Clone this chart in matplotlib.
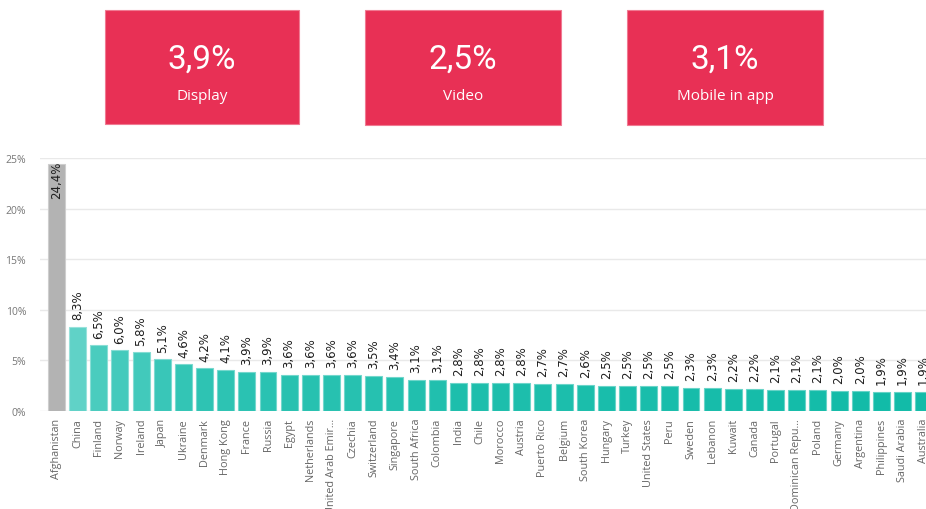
import matplotlib
matplotlib.use("Agg")
import matplotlib.pyplot as plt
import numpy as np
from matplotlib.colors import to_rgb
from matplotlib.patches import Rectangle

countries = ["Afghanistan", "China", "Finland", "Norway", "Ireland", "Japan", "Ukraine",
             "Denmark", "Hong Kong", "France", "Russia", "Egypt", "Netherlands",
             "United Arab Emir...", "Czechia", "Switzerland", "Singapore", "South Africa",
             "Colombia", "India", "Chile", "Morocco", "Austria", "Puerto Rico", "Belgium",
             "South Korea", "Hungary", "Turkey", "United States", "Peru", "Sweden",
             "Lebanon", "Kuwait", "Canada", "Portugal", "Dominican Repu...", "Poland",
             "Germany", "Argentina", "Philippines", "Saudi Arabia", "Australia"]
values = [24.4, 8.3, 6.5, 6.0, 5.8, 5.1, 4.6, 4.2, 4.1, 3.9, 3.9, 3.6, 3.6, 3.6, 3.6,
          3.5, 3.4, 3.1, 3.1, 2.8, 2.8, 2.8, 2.8, 2.7, 2.7, 2.6, 2.5, 2.5, 2.5, 2.5,
          2.3, 2.3, 2.2, 2.2, 2.1, 2.1, 2.1, 2.0, 2.0, 1.9, 1.9, 1.9]
kpi_values = ["3,9%", "2,5%", "3,1%"]
kpi_labels = ["Display", "Video", "Mobile in app"]
y_ticks = [0, 5, 10, 15, 20, 25]

W, H = 926, 510
fig = plt.figure(figsize=(W / 100, H / 100), dpi=100)

# KPI cards
card_boxes = [(105, 11, 299, 125), (365, 11, 561, 126), (627, 11, 823, 126)]
for (x0, y0, x1, y1), v, lab in zip(card_boxes, kpi_values, kpi_labels):
    fig.patches.append(Rectangle((x0 / W, 1 - y1 / H), (x1 - x0) / W, (y1 - y0) / H,
                                 transform=fig.transFigure, facecolor="#E83055",
                                 edgecolor="#F07A92", linewidth=0.8))
    cx = (x0 + x1) / 2 / W
    fig.text(cx, 1 - 60 / H, v, ha="center", va="center", color="white",
             fontsize=24, family=["Roboto", "DejaVu Sans"])
    fig.text(cx, 1 - 97 / H, lab, ha="center", va="center", color="white",
             fontsize=11, family=["Open Sans", "DejaVu Sans"])

# Bar chart
left_px, bottom_px, top_px = 40, 412, 159
ax = fig.add_axes([left_px / W, 1 - bottom_px / H, 1 - left_px / W, (bottom_px - top_px) / H])
x = np.arange(len(countries))

others = values[1:]
vmin, vmax = min(others), max(others)
c_lo, c_hi = np.array(to_rgb("#12BBA8")), np.array(to_rgb("#60D2C7"))
colors, edges = [], []
for i, v in enumerate(values):
    if i == 0:
        c = np.array(to_rgb("#B3B3B3"))
    else:
        t = (v - vmin) / (vmax - vmin)
        c = c_lo + (c_hi - c_lo) * t
    colors.append(c)
    edges.append(c + (1 - c) * 0.35)

ax.bar(x, values, width=0.8, color=colors, edgecolor=edges, linewidth=0.8, zorder=2)

for i, v in enumerate(values):
    lab = f"{v:.1f}%".replace(".", ",")
    if i == 0:
        ax.annotate(lab, (x[i], v), xytext=(0, 2.5), textcoords="offset points",
                    rotation=90, ha="center", va="top", fontsize=8.5, color="#1E1E1E",
                    annotation_clip=False)
    else:
        ax.annotate(lab, (x[i], v), xytext=(0, 5.5), textcoords="offset points",
                    rotation=90, ha="center", va="bottom", fontsize=8.5, color="#1E1E1E",
                    annotation_clip=False)

step = 21.15
ax.set_xlim(-(56.5 - left_px) / step, (W - 56.5) / step)
ax.set_ylim(0, 25)
ax.set_yticks(y_ticks)
ax.set_yticklabels([f"{t}%" for t in y_ticks], fontsize=7.5, color="#777777",
                   family=["Open Sans", "DejaVu Sans"])
ax.set_xticks(x)
ax.set_xticklabels(countries, rotation=90, fontsize=7.8, color="#666666",
                   family=["Open Sans", "DejaVu Sans"], va="top")
ax.tick_params(axis="both", length=0)
ax.tick_params(axis="y", pad=10)
ax.tick_params(axis="x", pad=5)
for s in ax.spines.values():
    s.set_visible(False)
ax.grid(axis="y", color="#E9E9E9", linewidth=1, zorder=0)
ax.set_axisbelow(True)

fig.savefig("out.png", dpi=100)
